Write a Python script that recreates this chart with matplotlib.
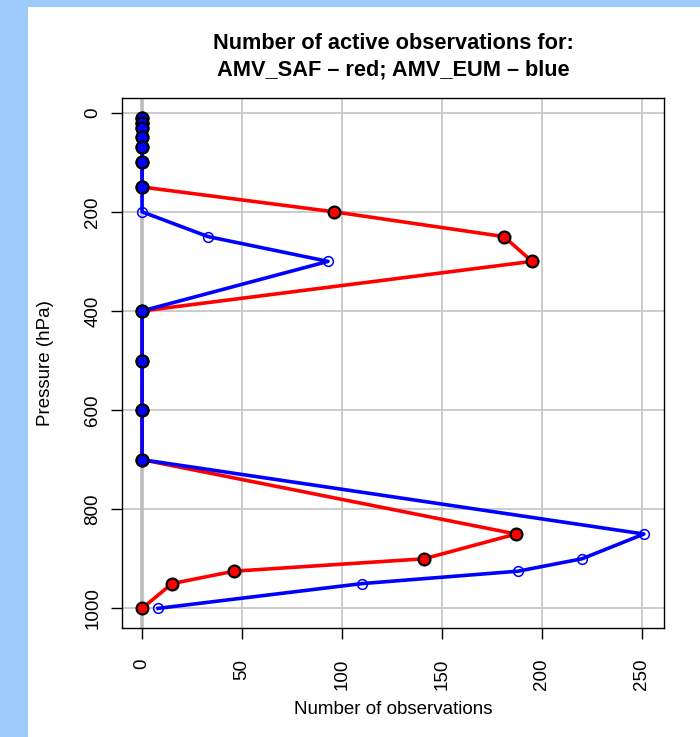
"""Active AMV observations per pressure level: SAF (red) vs EUM (blue)."""

import matplotlib

matplotlib.use("Agg")
import matplotlib.pyplot as plt
from matplotlib.patches import Rectangle
import numpy as np

pressure = [10, 20, 30, 50, 70, 100, 150, 200, 250, 300, 400, 500, 600, 700, 850, 900, 925, 950, 1000]
amv_saf = [0, 0, 0, 0, 0, 0, 0, 96, 181, 195, 0, 0, 0, 0, 187, 141, 46, 15, 0]
amv_eum = [0, 0, 0, 0, 0, 0, 0, 0, 33, 93, 0, 0, 0, 0, 251, 220, 188, 110, 8]
x_ticks = [0, 50, 100, 150, 200, 250]
y_ticks = [0, 200, 400, 600, 800, 1000]

W, H = 700, 737
plt.rcParams["font.family"] = ["Liberation Sans", "DejaVu Sans"]

fig = plt.figure(figsize=(W / 100, H / 100), dpi=100, facecolor="#9dcbfb")
fig.patches.append(Rectangle((28 / W, 0), 1, 1 - 7 / H, transform=fig.transFigure,
                             facecolor="white", edgecolor="none", zorder=-10))

ax = fig.add_axes([122 / W, (H - 628) / H, 542 / W, 530 / H])
ax.set_facecolor("white")

p = np.array(pressure, dtype=float)
saf = np.array(amv_saf, dtype=float)
eum = np.array(amv_eum, dtype=float)

# R style 4% padding
xr = eum.max() - 0
ax.set_xlim(0 - 0.04 * xr, eum.max() + 0.04 * xr)
yr = p.max() - p.min()
ax.set_ylim(p.max() + 0.04 * yr, p.min() - 0.04 * yr)

for t in x_ticks:
    ax.axvline(t, color="#c8c8c8", lw=1.3, zorder=1)
for t in y_ticks:
    ax.axhline(t, color="#c8c8c8", lw=1.3, zorder=1)
ax.axvline(0, color="#bdbdbd", lw=2.6, zorder=1)

ax.plot(saf, p, color="red", lw=2.6, zorder=3)
ax.plot(saf, p, ls="none", marker="o", ms=8.5, mfc="red", mec="black", mew=1.6, zorder=4)
ax.plot(eum, p, color="blue", lw=2.6, zorder=5)
ax.plot(eum, p, ls="none", marker="o", ms=7, mfc="none", mec="blue", mew=1.1, zorder=6)
same = saf == eum
ax.plot(eum[same], p[same], ls="none", marker="o", ms=8.5, mfc="blue", mec="black",
        mew=1.6, zorder=6)

ax.set_xticks(x_ticks)
ax.set_yticks(y_ticks)
ax.set_xticklabels([str(t) for t in x_ticks], rotation=90, fontsize=13.5)
ax.set_yticklabels([str(t) for t in y_ticks], rotation=90, fontsize=13.5, va="center")
ax.tick_params(direction="out", length=8, width=1, colors="black")
ax.tick_params(axis="x", pad=14)
ax.tick_params(axis="y", pad=7)
for s in ax.spines.values():
    s.set_linewidth(1)

ax.set_xlabel("Number of observations", fontsize=13.5, labelpad=8)
ax.set_ylabel("Pressure (hPa)", fontsize=13.5, labelpad=22)
ax.set_title("Number of active observations for:\nAMV_SAF \u2013 red; AMV_EUM \u2013 blue",
             fontsize=15.7, fontweight="bold", pad=16, linespacing=1.35)

fig.savefig("out.png", dpi=100, facecolor=fig.get_facecolor())
